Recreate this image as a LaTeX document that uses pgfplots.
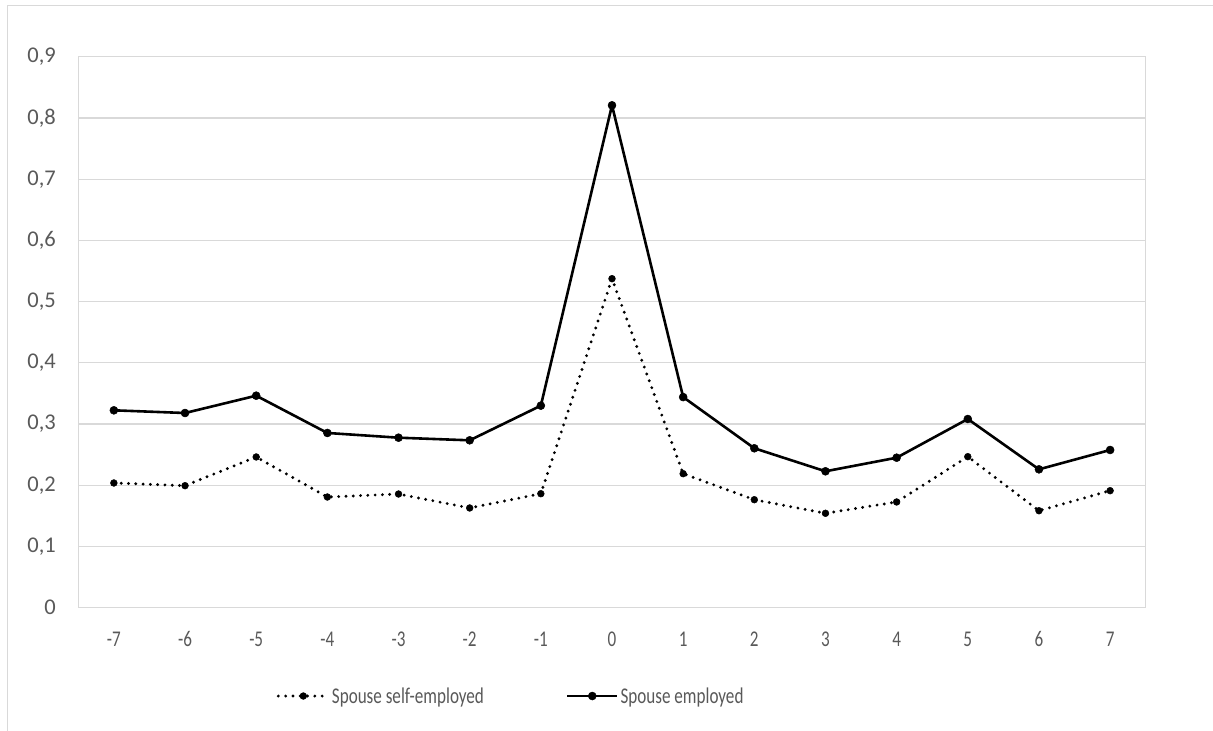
\documentclass[border=0pt]{standalone}
\usepackage{fontspec}
\setmainfont{Carlito}
\newfontfamily\condensed{Carlito}[FakeStretch=0.76]
\usepackage{pgfplots}
\pgfplotsset{compat=1.18}
\definecolor{gridgray}{HTML}{D9D9D9}
\definecolor{labelgray}{HTML}{595959}
\begin{document}
\begin{tikzpicture}
\path[use as bounding box] (0bp,0bp) rectangle (1213bp,731bp);
\draw[gridgray, line width=1.3bp] (7.3bp,0bp) -- (7.3bp,725.3bp) -- (1213bp,725.3bp);
\begin{axis}[
  at={(78.3bp,123.3bp)}, anchor=south west,
  scale only axis, width=1067.4bp, height=551bp,
  xmin=-7.5, xmax=7.5, ymin=0, ymax=0.9,
  xtick={-7,-6,-5,-4,-3,-2,-1,0,1,2,3,4,5,6,7},
  xticklabels={-7,-6,-5,-4,-3,-2,-1,0,1,2,3,4,5,6,7},
  ytick={0,0.1,0.2,0.3,0.4,0.5,0.6,0.7,0.8,0.9},
  yticklabels={0,{0,1},{0,2},{0,3},{0,4},{0,5},{0,6},{0,7},{0,8},{0,9}},
  ymajorgrids,
  grid style={gridgray, line width=1.2bp},
  axis line style={gridgray, line width=1.2bp},
  major tick length=0pt,
  tick label style={text=labelgray},
  yticklabel style={font=\fontsize{22.5bp}{26bp}\selectfont, xshift=-19bp},
  xticklabel style={font=\condensed\fontsize{22.5bp}{26bp}\selectfont, yshift=-20.5bp},
  legend columns=2,
  legend style={at={(0.1859,-0.1603)}, anchor=west, draw=none, fill=none,
    inner sep=0pt, outer sep=0pt,
    font=\condensed\fontsize{22.5bp}{26bp}\selectfont, text=labelgray,
    nodes={inner sep=2bp},
    /tikz/every even column/.append style={column sep=80bp}},
  legend image code/.code={\draw[#1, mark repeat=2, mark phase=2] plot coordinates {(0bp,0bp) (25bp,0bp) (50bp,0bp)};},
]
\addplot[black, line width=3.2bp, line cap=round, dash pattern=on 0bp off 7.3bp,
  mark=*, mark size=3.4bp, mark options={solid, fill=black, line width=0.5bp}]
coordinates {
(-7,0.2037) (-6,0.1993) (-5,0.2462) (-4,0.1808) (-3,0.1857) (-2,0.1629) (-1,0.1862)
(0,0.5374) (1,0.2189) (2,0.1764) (3,0.1542) (4,0.1727) (5,0.2467) (6,0.1584) (7,0.1911)};
\addlegendentry{Spouse self-employed}
\addplot[black, line width=2.6bp, line join=round,
  mark=*, mark size=4bp, mark options={solid, fill=black, line width=0.5bp}]
coordinates {
(-7,0.3224) (-6,0.318) (-5,0.3463) (-4,0.2854) (-3,0.2777) (-2,0.2734) (-1,0.33)
(0,0.8206) (1,0.344) (2,0.2604) (3,0.2228) (4,0.245) (5,0.3082) (6,0.226) (7,0.2576)};
\addlegendentry{Spouse employed}
\end{axis}
\end{tikzpicture}
\end{document}
